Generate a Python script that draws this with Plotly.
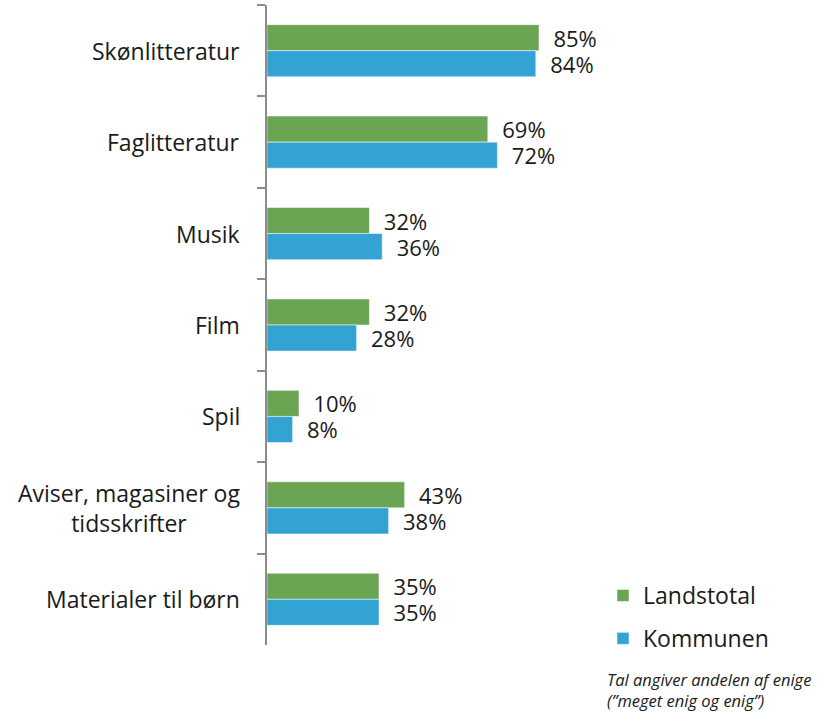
import plotly.graph_objects as go

categories = ["Skønlitteratur", "Faglitteratur", "Musik", "Film", "Spil",
              "Aviser, magasiner og<br>tidsskrifter", "Materialer til børn"]
landstotal = [85, 69, 32, 32, 10, 43, 35]
kommunen = [84, 72, 36, 28, 8, 38, 35]
series_names = ["Landstotal", "Kommunen"]
note_text = "<i>Tal angiver andelen af enige<br>(”meget enig og enig”)</i>"

GREEN = "#69a553"
BLUE = "#33a3d3"
FONT = "Open Sans, sans-serif"
PAD = "\u00a0\u00a0"

L, R, T, B = 267, 230, 5, 67
PW, PH = 817 - L - R, 712 - T - B

fig = go.Figure()
for name, vals, col in [(series_names[0], landstotal, GREEN), (series_names[1], kommunen, BLUE)]:
    fig.add_trace(go.Bar(
        y=categories, x=vals, orientation="h", name=name,
        marker=dict(color=col, line=dict(color="white", width=0.5)),
        text=[f"{PAD}{v}%" for v in vals], textposition="outside",
        textfont=dict(size=22, color="#1a1a1a", family=FONT),
        constraintext="none", cliponaxis=False, legendgroup=name,
    ))

for c in categories:
    fig.add_annotation(x=0, y=c, xref="paper", yref="y", xanchor="right",
                       xshift=-25, text=c, showarrow=False, align="center",
                       font=dict(size=23, color="#1a1a1a", family=FONT))

fig.add_annotation(xref="paper", yref="paper", x=(605 - L) / PW,
                   y=(712 - B - 690) / PH, xanchor="left", yanchor="middle",
                   text=note_text, showarrow=False, align="left",
                   font=dict(size=16.5, color="#1a1a1a", family=FONT))

fig.update_layout(
    width=817, height=712,
    margin=dict(l=L, r=R, t=T, b=B, autoexpand=False),
    paper_bgcolor="white", plot_bgcolor="white",
    barmode="group", bargap=0.43, bargroupgap=0,
    showlegend=True,
    legend=dict(x=(603 - L) / PW, y=(712 - B - 574) / PH, xanchor="left", yanchor="top",
                traceorder="grouped", tracegroupgap=10,
                font=dict(size=23, color="#1a1a1a", family=FONT), bgcolor="rgba(0,0,0,0)"),
    font=dict(family=FONT),
)
fig.update_xaxes(range=[0, 100], showgrid=False, zeroline=False, showline=False,
                 showticklabels=False, ticks="")
fig.update_yaxes(range=[6.5, -0.5], showgrid=False, showline=True, linecolor="#8c8c8c",
                 linewidth=2, ticks="outside", ticklen=8, tickwidth=2, tickcolor="#8c8c8c",
                 tickson="boundaries", showticklabels=False)

fig.write_html("out.html", config={"displayModeBar": False},
               post_script="document.body.style.margin='0';document.body.style.overflow='hidden';")
